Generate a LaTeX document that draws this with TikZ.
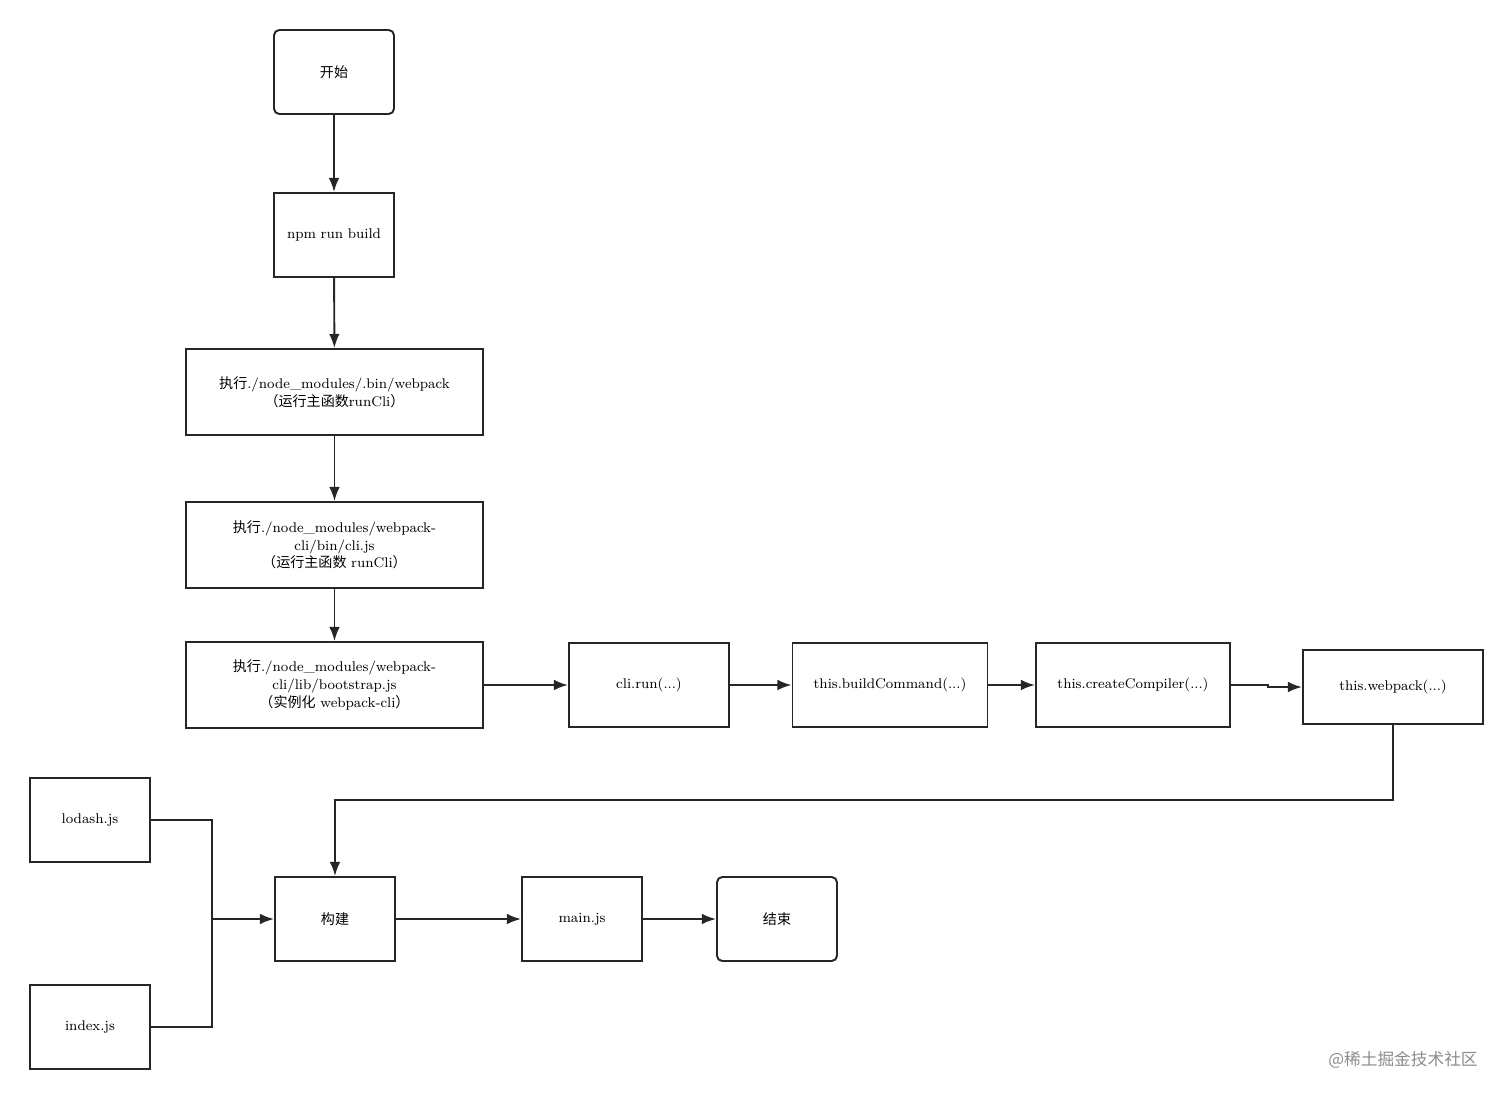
\documentclass[tikz,border=0pt]{standalone}
\usepackage{fontspec}
\newfontfamily\cjk{Noto Sans CJK SC}
\usetikzlibrary{arrows.meta}
\begin{document}
\begin{tikzpicture}[x=0.02cm,y=-0.02cm,
 box/.style={draw=black!85,line width=1.1pt,minimum width=#1*0.02cm,minimum height=1.68cm,align=center,inner sep=2pt,font=\fontsize{8}{10}\selectfont,text width=#1*0.02cm-8pt},
 box/.default=120,
 rbox/.style={box,rounded corners=3pt},
 arr/.style={draw=black!85,line width=1.1pt,-{Latex[length=8pt,width=6pt]}},
 ln/.style={draw=black!85,line width=1.1pt}]
\useasboundingbox (0,0) rectangle (1512,1099);
\node[rbox] (start) at (334,72) {\cjk 开始};
\node[box] (npm) at (334,235) {npm run build};
\node[box=297,minimum height=1.72cm] (e1) at (334.5,392) {{\cjk 执行}./node\_modules/.bin/webpack\\{\cjk （运行主函数}runCli{\cjk ）}};
\node[box=297,minimum height=1.72cm] (e2) at (334.5,545) {{\cjk 执行}./node\_modules/webpack-\\cli/bin/cli.js\\{\cjk （运行主函数 }runCli{\cjk ）}};
\node[box=297,minimum height=1.72cm] (e3) at (334.5,685) {{\cjk 执行}./node\_modules/webpack-\\cli/lib/bootstrap.js\\{\cjk （实例化 }webpack-cli{\cjk ）}};
\node[box=160] (run) at (649,685) {cli.run(...)};
\node[box=195] (bc) at (890,685) {this.buildCommand(...)};
\node[box=194] (cc) at (1133,685) {this.createCompiler(...)};
\node[box=180,minimum height=1.48cm] (wp) at (1393,687) {this.webpack(...)};
\node[box] (lod) at (90,820) {lodash.js};
\node[box] (idx) at (90,1027) {index.js};
\node[box] (build) at (335,919) {\cjk 构建};
\node[box] (mainjs) at (582,919) {main.js};
\node[rbox] (end) at (777,919) {\cjk 结束};
\node[text=black!45,font=\cjk\fontsize{9.5}{11}\selectfont] (wm) at (1403,1060) {@稀土掘金技术社区};
\draw[arr] (start) -- (npm);
\draw[arr] (npm) -- (e1);
\draw[arr] (e1) -- (e2);
\draw[arr] (e2) -- (e3);
\draw[arr] (e3) -- (run);
\draw[arr] (run) -- (bc);
\draw[arr] (bc) -- (cc);
\draw[arr] (cc.east) -- ++(37,0) |- (wp.west);
\coordinate (c1) at (1393,800);
\coordinate (c2) at (335,800);
\draw[arr] (wp.south) -- (c1) -- (c2) -- (build.north);
\coordinate (j) at (212,919);
\draw[ln] (lod.east) -| (j);
\draw[ln] (idx.east) -| (j);
\draw[arr] (j) -- (build.west);
\draw[arr] (build) -- (mainjs);
\draw[arr] (mainjs) -- (end);
\end{tikzpicture}
\end{document}
